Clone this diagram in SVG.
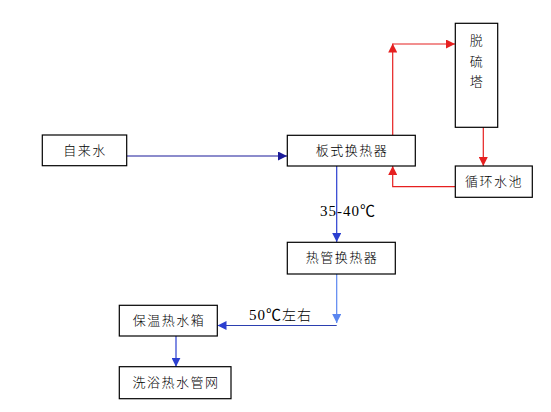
<svg xmlns="http://www.w3.org/2000/svg" width="551" height="412" viewBox="0 0 551 412">
<defs>
<style>
.box{fill:#fff;stroke:#000;stroke-width:1.2}
.t{font-family:"Noto Sans CJK SC","Liberation Serif",serif;font-size:13px;font-weight:300;fill:#000;text-anchor:middle;letter-spacing:1.5px}
.n{font-family:"Liberation Serif","Noto Sans CJK SC",serif;font-size:15px;fill:#000;letter-spacing:1px}
.ln{fill:none;stroke-width:1.2}
</style>
<marker id="ar" viewBox="0 0 10 10" refX="10" refY="5" markerWidth="9" markerHeight="9" markerUnits="userSpaceOnUse" orient="auto"><path d="M0,0 L10,5 L0,10 z" fill="#e62020"/></marker>
<marker id="an" viewBox="0 0 10 10" refX="10" refY="5" markerWidth="9" markerHeight="9" markerUnits="userSpaceOnUse" orient="auto"><path d="M0,0 L10,5 L0,10 z" fill="#1a1a99"/></marker>
<marker id="ab" viewBox="0 0 10 10" refX="10" refY="5" markerWidth="9" markerHeight="9" markerUnits="userSpaceOnUse" orient="auto"><path d="M0,0 L10,5 L0,10 z" fill="#2b3fd0"/></marker>
<marker id="al" viewBox="0 0 10 10" refX="10" refY="5" markerWidth="9" markerHeight="9" markerUnits="userSpaceOnUse" orient="auto"><path d="M0,0 L10,5 L0,10 z" fill="#5a86f0"/></marker>
</defs>
<rect width="551" height="412" fill="#fff"/>
<g id="connectors">
<path class="ln" stroke="#1a1a99" d="M127,156 L287,156" marker-end="url(#an)"/>
<path class="ln" stroke="#e62020" d="M392.7,135 L392.7,43.5" marker-end="url(#ar)"/>
<path class="ln" stroke="#e62020" d="M392.7,44 L455,44" marker-end="url(#ar)"/>
<path class="ln" stroke="#e62020" d="M483.3,127 L483.3,166" marker-end="url(#ar)"/>
<path class="ln" stroke="#e62020" d="M455,186.7 L392.7,186.7 L392.7,166" marker-end="url(#ar)"/>
<path class="ln" stroke="#2b3fd0" d="M336.7,166 L336.7,242" marker-end="url(#ab)"/>
<path class="ln" stroke="#5a86f0" d="M336.7,274 L336.7,323" marker-end="url(#al)"/>
<path class="ln" stroke="#2b3fb0" d="M336.7,325.5 L217.5,325.5" marker-end="url(#ab)"/>
<path class="ln" stroke="#2b3fd0" d="M176,336 L176,366.7" marker-end="url(#ab)"/>
<text class="n" x="320" y="216">35-40℃</text>
<text class="n" x="249" y="320">50℃<tspan font-family="Noto Sans CJK SC, sans-serif" font-size="14" font-weight="300">左右</tspan></text>
</g>
<g id="n1"><rect class="box" x="42.3" y="135" width="84.4" height="30.7"/><text class="t" x="85" y="155">自来水</text></g>
<g id="n2"><rect class="box" x="287.3" y="135.3" width="128" height="30.7"/><text class="t" x="352" y="155">板式换热器</text></g>
<g id="n3"><rect class="box" x="455.3" y="23.3" width="42.4" height="104"/><text class="t" x="477" y="45">脱</text><text class="t" x="477" y="66">硫</text><text class="t" x="477" y="86">塔</text></g>
<g id="n4"><rect class="box" x="455.3" y="166" width="77" height="31.3"/><text class="t" x="494" y="186">循环水池</text></g>
<g id="n5"><rect class="box" x="287.3" y="242.3" width="108" height="31.7"/><text class="t" x="342" y="262">热管换热器</text></g>
<g id="n6"><rect class="box" x="119.3" y="305.3" width="98" height="30.7"/><text class="t" x="169" y="325">保温热水箱</text></g>
<g id="n7"><rect class="box" x="119.3" y="366.7" width="111.7" height="32"/><text class="t" x="176" y="387">洗浴热水管网</text></g>
</svg>
